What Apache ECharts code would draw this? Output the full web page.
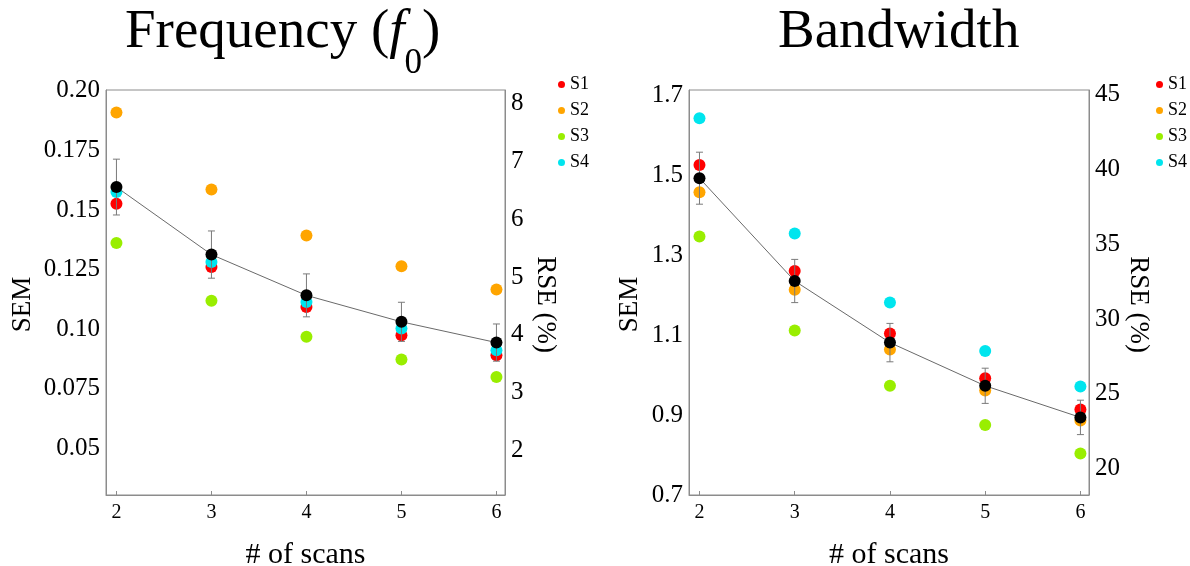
<!DOCTYPE html>
<html>
<head>
<meta charset="utf-8">
<script src="https://cdn.jsdelivr.net/npm/echarts@6/dist/echarts.min.js"></script>
<style>
  html, body { margin: 0; padding: 0; background: #fff; }
  #chart { width: 1190px; height: 566px; }
</style>
</head>
<body>
<div id="chart"></div>
<script>
// Number of scans on the horizontal axis
const scans = [2, 3, 4, 5, 6];

// Subjects
const subjectNames = ['S1', 'S2', 'S3', 'S4'];
const subjectColors = ['#ff0000', '#ffa500', '#99ee00', '#00e5ee'];

// Frequency (f0): SEM per subject
const f0S1 = [0.1526, 0.1261, 0.1093, 0.0975, 0.0891];
const f0S2 = [0.1909, 0.1586, 0.1393, 0.1264, 0.1167];
const f0S3 = [0.1362, 0.1119, 0.0968, 0.0873, 0.0800];
const f0S4 = [0.1575, 0.1282, 0.1114, 0.1003, 0.0912];
// Frequency (f0): mean SEM and its error bar half-width
const f0Mean = [0.1596, 0.1313, 0.1142, 0.1031, 0.0944];
const f0Err = [0.0117, 0.0099, 0.0090, 0.0082, 0.0078];

// Bandwidth: SEM per subject
const bwS1 = [1.525, 1.260, 1.104, 0.992, 0.914];
const bwS2 = [1.457, 1.213, 1.064, 0.961, 0.886];
const bwS3 = [1.346, 1.111, 0.973, 0.875, 0.804];
const bwS4 = [1.642, 1.354, 1.181, 1.060, 0.971];
// Bandwidth: mean SEM and its error bar half-width
const bwMean = [1.492, 1.235, 1.081, 0.973, 0.894];
const bwErr = [0.065, 0.054, 0.048, 0.044, 0.043];

// Tick values and labels
const scanTicks = [2, 3, 4, 5, 6];
const f0SemTicks = [0.05, 0.075, 0.10, 0.125, 0.15, 0.175, 0.20];
const f0SemTickLabels = ['0.05', '0.075', '0.10', '0.125', '0.15', '0.175', '0.20'];
const f0RseTicks = [2, 3, 4, 5, 6, 7, 8];
const bwSemTicks = [0.7, 0.9, 1.1, 1.3, 1.5, 1.7];
const bwSemTickLabels = ['0.7', '0.9', '1.1', '1.3', '1.5', '1.7'];
const bwRseTicks = [20, 25, 30, 35, 40, 45];

const FONT = '"Liberation Serif", "Times New Roman", serif';
const AXIS_GRAY = '#8c8c8c';

function labelFor(ticks, labels) {
  return function (v) {
    const i = ticks.findIndex(t => Math.abs(t - v) < 1e-9);
    return i >= 0 ? labels[i] : String(v);
  };
}

function xAxisFor(gridIndex) {
  return {
    type: 'value', gridIndex, min: 1.89, max: 6.09,
    name: '# of scans', nameLocation: 'middle', nameGap: 45,
    nameTextStyle: { fontFamily: FONT, fontSize: 30, color: '#000' },
    axisLine: { show: true, lineStyle: { color: AXIS_GRAY, width: 1 } },
    axisTick: { show: true, inside: true, length: 4, customValues: scanTicks, lineStyle: { color: AXIS_GRAY } },
    axisLabel: { customValues: scanTicks, fontFamily: FONT, fontSize: 20, color: '#000', margin: 8 },
    splitLine: { show: false }
  };
}

function yAxisFor(gridIndex, position, min, max, ticks, labels, name, nameGap, rotate) {
  // rotated names sit a little below the axis middle
  const pad = rotate > 0 ? [0, 24, 0, 0] : [0, 0, 0, 24];
  return {
    type: 'value', gridIndex, position, min, max,
    name, nameLocation: 'middle', nameGap, nameRotate: rotate,
    nameTextStyle: { fontFamily: FONT, fontSize: 27, color: '#000', padding: pad },
    axisLine: { show: true, lineStyle: { color: AXIS_GRAY, width: 1 } },
    axisTick: { show: false },
    axisLabel: {
      customValues: ticks, fontFamily: FONT, fontSize: 25, color: '#000', margin: 6,
      formatter: labelFor(ticks, labels)
    },
    splitLine: { show: false }
  };
}

function subjectSeries(xi, yi, values, k) {
  return {
    type: 'scatter', name: subjectNames[k], xAxisIndex: xi, yAxisIndex: yi,
    symbol: 'circle', symbolSize: 12, z: 2,
    itemStyle: { color: subjectColors[k], opacity: 1 },
    data: scans.map((s, i) => [s, values[i]])
  };
}

function errorSeries(xi, yi, mean, err) {
  return {
    type: 'custom', xAxisIndex: xi, yAxisIndex: yi, z: 3,
    data: scans.map((s, i) => [s, mean[i] - err[i], mean[i] + err[i]]),
    renderItem: function (params, api) {
      const lo = api.coord([api.value(0), api.value(1)]);
      const hi = api.coord([api.value(0), api.value(2)]);
      const half = 3.5;
      const st = { stroke: '#7a7a7a', lineWidth: 1 };
      return {
        type: 'group',
        children: [
          { type: 'line', shape: { x1: hi[0], y1: hi[1], x2: lo[0], y2: lo[1] }, style: st },
          { type: 'line', shape: { x1: hi[0] - half, y1: hi[1], x2: hi[0] + half, y2: hi[1] }, style: st },
          { type: 'line', shape: { x1: lo[0] - half, y1: lo[1], x2: lo[0] + half, y2: lo[1] }, style: st }
        ]
      };
    }
  };
}

function meanSeries(xi, yi, mean) {
  return {
    type: 'line', xAxisIndex: xi, yAxisIndex: yi, z: 4,
    symbol: 'circle', symbolSize: 12, showSymbol: true,
    itemStyle: { color: '#000' },
    lineStyle: { color: '#6a6a6a', width: 1 },
    data: scans.map((s, i) => [s, mean[i]])
  };
}

// Silent series that bind the right-hand RSE axes to each grid
function rseAnchor(xi, yi) {
  return { type: 'scatter', xAxisIndex: xi, yAxisIndex: yi, silent: true, data: [] };
}

// Panel titles: main text plus an italic f with a lowered subscript 0
const TITLE_SIZE = 55;
const SUB_SIZE = 35;
const mainFont = TITLE_SIZE + 'px ' + FONT;
const italicFont = 'italic ' + TITLE_SIZE + 'px ' + FONT;
const subFont = SUB_SIZE + 'px ' + FONT;
const measureCtx = document.createElement('canvas').getContext('2d');
function textWidth(text, font) { measureCtx.font = font; return measureCtx.measureText(text).width; }

function titlePieces(x0, yMid, ySub, parts) {
  let x = x0;
  return parts.map(p => {
    const el = {
      type: 'text', x, y: p.sub ? ySub : yMid, silent: true,
      style: { text: p.text, font: p.font, fill: '#000', align: 'left', verticalAlign: 'middle' }
    };
    x += textWidth(p.text, p.font);
    return el;
  });
}

const titleGraphics = [].concat(
  titlePieces(125, 33, 64, [
    { text: 'Frequency (', font: mainFont },
    { text: 'f', font: italicFont },
    { text: '0', font: subFont, sub: true },
    { text: ')', font: mainFont }
  ]),
  titlePieces(778, 33, 64, [{ text: 'Bandwidth', font: mainFont }])
);

const legendCommon = {
  orient: 'vertical', icon: 'circle', itemWidth: 7, itemHeight: 7, itemGap: 7,
  data: subjectNames, selectedMode: false,
  textStyle: { fontFamily: FONT, fontSize: 18, color: '#000', lineHeight: 19 }
};

const gridCommon = { show: true, borderColor: AXIS_GRAY, borderWidth: 1, outerBoundsMode: 'none', containLabel: false };

const chart = echarts.init(document.getElementById('chart'), null, { renderer: 'canvas' });
chart.setOption({
  backgroundColor: '#fff',
  animation: false,
  graphic: titleGraphics,
  legend: [
    Object.assign({ left: 553, top: 70 }, legendCommon),
    Object.assign({ left: 1151, top: 70 }, legendCommon)
  ],
  grid: [
    Object.assign({ left: 106, top: 90, width: 399, height: 405 }, gridCommon),
    Object.assign({ left: 689, top: 90, width: 400, height: 405 }, gridCommon)
  ],
  xAxis: [xAxisFor(0), xAxisFor(1)],
  yAxis: [
    yAxisFor(0, 'left', 0.0305, 0.2003, f0SemTicks, f0SemTickLabels, 'SEM', 70, 90),
    yAxisFor(0, 'right', 1.235, 8.23, f0RseTicks, f0RseTicks.map(String), 'RSE (%)', 27, -90),
    yAxisFor(1, 'left', 0.7, 1.7125, bwSemTicks, bwSemTickLabels, 'SEM', 46, 90),
    yAxisFor(1, 'right', 18.24, 45.33, bwRseTicks, bwRseTicks.map(String), 'RSE (%)', 36, -90)
  ],
  series: [
    subjectSeries(0, 0, f0S1, 0),
    subjectSeries(0, 0, f0S2, 1),
    subjectSeries(0, 0, f0S3, 2),
    subjectSeries(0, 0, f0S4, 3),
    errorSeries(0, 0, f0Mean, f0Err),
    meanSeries(0, 0, f0Mean),
    rseAnchor(0, 1),
    subjectSeries(1, 2, bwS1, 0),
    subjectSeries(1, 2, bwS2, 1),
    subjectSeries(1, 2, bwS3, 2),
    subjectSeries(1, 2, bwS4, 3),
    errorSeries(1, 2, bwMean, bwErr),
    meanSeries(1, 2, bwMean),
    rseAnchor(1, 3)
  ]
});
</script>
</body>
</html>
